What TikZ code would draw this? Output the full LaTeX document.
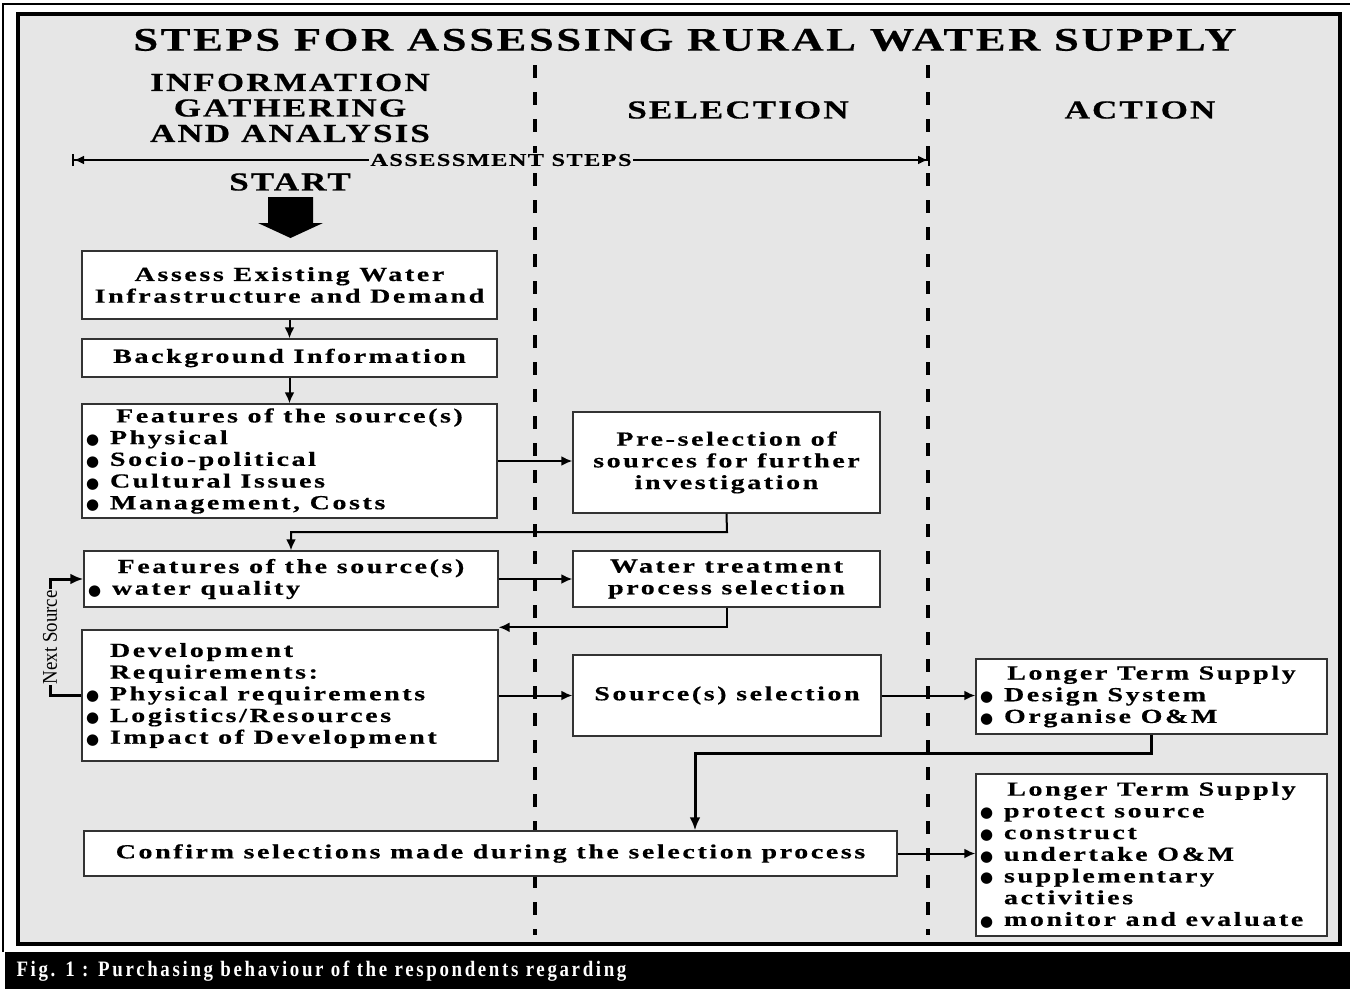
\documentclass[tikz,border=0pt]{standalone}
\usepackage{fontspec}
\setmainfont{Liberation Serif}
\newfontfamily\headfont{Liberation Serif}[FakeStretch=1.35,LetterSpace=8,FakeBold=0.4]
\newfontfamily\boxfont{Liberation Serif}[FakeStretch=1.4,LetterSpace=13,FakeBold=0.5]
\newfontfamily\capfont{Liberation Serif}[FakeStretch=0.86,LetterSpace=12]
\newfontfamily\lblfont{Liberation Serif}[FakeStretch=0.9]
\newfontfamily\dotfont{DejaVu Sans}
\usetikzlibrary{positioning,arrows.meta}
\definecolor{panelgray}{HTML}{E6E6E6}
\setlength{\parindent}{0pt}
\newcommand{\bul}{\makebox[23pt][l]{\hspace*{-1pt}\raisebox{-0.5pt}{\dotfont\fontsize{15}{15}\selectfont ●}}}
\newcommand{\bulgap}{\hspace*{23pt}}
\newcommand{\midline}[1]{\makebox[\hsize][c]{#1}}

\begin{document}
\begin{tikzpicture}[x=1pt,y=-1pt,
    box/.style={draw=black!80, line width=1.4pt, fill=white, inner xsep=5pt, inner ysep=1pt,
      font=\boxfont\bfseries\fontsize{20}{21.7}\selectfont},
    heading/.style={font=\headfont\bfseries\fontsize{26}{25.5}\selectfont, align=center},
    conn/.style={line width=2pt, -{Latex[length=11pt,width=10pt]}},
    thickconn/.style={line width=3pt, -{Latex[length=13pt,width=11pt]}}]
    \useasboundingbox (0,0) rectangle (1350,989);

    % Frame and panel
    \fill[white] (0,0) rectangle (1350,989);
    \draw[line width=2pt] (1350,4) -- (3,4) -- (3,952);
    \draw[line width=4pt, fill=panelgray] (18,14) rectangle (1340,944);
    \fill[black] (5,952) rectangle (1350,989);
    \node[anchor=west, text=white, font=\capfont\bfseries\fontsize{22}{22}\selectfont] (caption) at (13,971)
      {Fig. 1 : Purchasing behaviour of the respondents regarding};

    % Column separators
    \foreach \dx in {535,928}
      \draw[line width=4pt, dash pattern=on 13pt off 14pt] (\dx,65) -- (\dx,935);

    % Headings
    \node[font=\headfont\bfseries\fontsize{33}{36}\selectfont] (title) at (685,40)
      {STEPS FOR ASSESSING RURAL WATER SUPPLY};
    \node[heading] (colinfo) at (290,108) {INFORMATION\\GATHERING\\AND ANALYSIS};
    \node[heading] (colsel) at (738,110) {SELECTION};
    \node[heading] (colact) at (1140,110) {ACTION};
    \node[heading] (start) at (290,182) {START};

    % Assessment steps
    \coordinate (stepsL) at (72,160);
    \coordinate (stepsR) at (930,160);
    \draw[line width=2pt, {Bar[width=12pt]Latex[length=10pt,width=9pt]}-{Latex[length=10pt,width=9pt]Bar[width=12pt]}]
      (stepsL) -- node[fill=panelgray, inner sep=1pt, font=\headfont\bfseries\fontsize{18}{18}\selectfont] (stepslbl) {ASSESSMENT STEPS} (stepsR);

    % Start arrow
    \fill (268,197) -- (313,197) -- (313,223) -- (323,223) -- (290.5,238) -- (258,223) -- (268,223) -- cycle;

    % Information gathering column
    \node[box, minimum width=415pt, minimum height=68pt, align=center] (assess) at (289.5,285)
      {Assess Existing Water\\Infrastructure and Demand};
    \node[box, minimum width=415pt, minimum height=38pt] (backg) at (289.5,358) {Background Information};
    \node[box, text width=405pt, minimum height=114pt, align=flush left] (featA) at (289.5,461)
      {\midline{Features of the source(s)}\\\bul Physical\\\bul Socio-political\\\bul Cultural Issues\\\bul Management, Costs};
    \node[box, text width=404pt, minimum height=56pt, align=flush left] (featB) at (291,579)
      {\midline{Features of the source(s)}\\\bul water quality};
    \node[box, text width=406pt, minimum height=131pt, align=flush left] (devreq) at (290,695.5)
      {\bulgap Development\\\bulgap Requirements:\\\bul Physical requirements\\\bul Logistics/Resources\\\bul Impact of Development};
    \node[box, minimum width=813pt, minimum height=45pt] (confirm) at (490.5,853.5)
      {Confirm selections made during the selection process};

    % Selection column
    \node[box, minimum width=307pt, minimum height=101pt, align=center] (presel) at (726.5,462.5)
      {Pre-selection of\\sources for further\\investigation};
    \node[box, minimum width=307pt, minimum height=56pt, align=center] (treat) at (726.5,579)
      {Water treatment\\process selection};
    \node[box, minimum width=308pt, minimum height=81pt] (srcsel) at (727,695.5) {Source(s) selection};

    % Action column
    \node[box, text width=341pt, minimum height=75pt, align=flush left] (ltsA) at (1151.5,696.5)
      {\midline{Longer Term Supply}\\\bul Design System\\\bul Organise O\&M};
    \node[box, text width=341pt, minimum height=162pt, align=flush left] (ltsB) at (1151.5,855)
      {\midline{Longer Term Supply}\\\bul protect source\\\bul construct\\\bul undertake O\&M\\\bul supplementary\\\bulgap activities\\\bul monitor and evaluate};

    % Connectors
    \draw[conn] (assess) -- (backg);
    \draw[conn] (backg) -- (featA);
    \draw[conn] (featA.east) -- (featA.east -| presel.west);
    \coordinate (preselbend) at (727,532);
    \draw[conn] (presel.south) -- (preselbend) -| (featB.north);
    \draw[conn] (featB.east) -- (featB.east -| treat.west);
    \draw[conn] (treat.south) |- ([yshift=2pt]devreq.north east);
    \draw[conn] (devreq.east) -- (devreq.east -| srcsel.west);
    \draw[conn] (srcsel.east) -- (srcsel.east -| ltsA.west);
    \coordinate (nextx) at (50,0);
    \draw[thickconn] (devreq.west) -- (devreq.west -| nextx)
      -- node[fill=panelgray, inner sep=1pt, rotate=90, font=\lblfont\fontsize{21}{21}\selectfont] (nextlbl) {Next Source}
      (featB.west -| nextx) -- (featB.west);
    \coordinate (retbend) at (695,753);
    \draw[thickconn] (ltsA.south) |- (retbend) -- (retbend |- confirm.north);
    \draw[conn] (confirm.east) -- (confirm.east -| ltsB.west);
\end{tikzpicture}
\end{document}
